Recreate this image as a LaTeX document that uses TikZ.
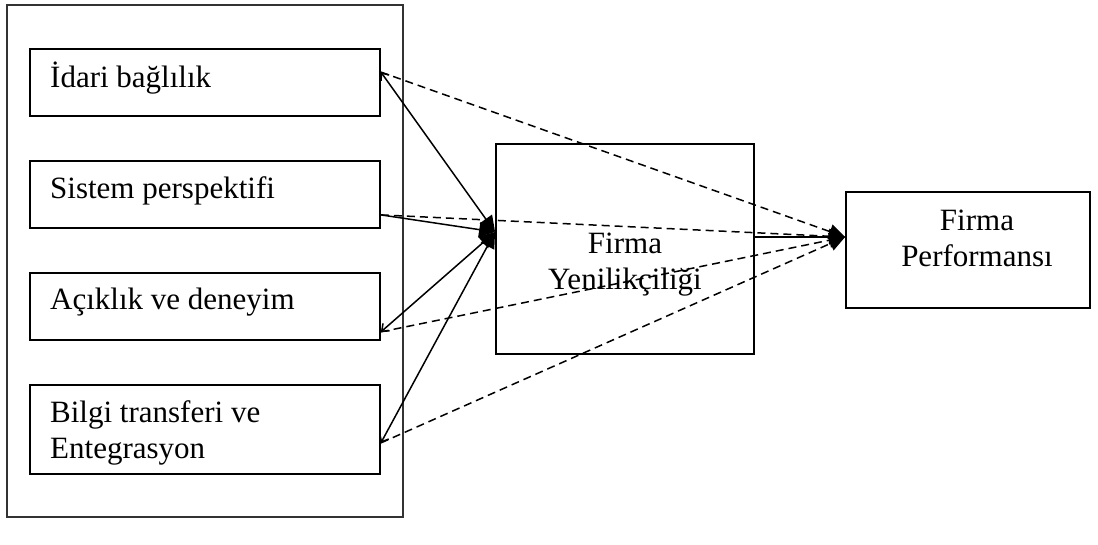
\documentclass[tikz,border=0pt]{standalone}
\usepackage{fontspec}
\setmainfont{Liberation Serif}
\usetikzlibrary{arrows.meta}
\begin{document}
\begin{tikzpicture}[x=1pt,y=-1pt,
  box/.style={draw=black,line width=1.8pt,inner sep=0pt,rectangle},
  outerbox/.style={draw=black!80,line width=1.5pt,inner sep=0pt,rectangle},
  lbl/.style={inner sep=0pt,font=\fontsize{31}{36}\selectfont},
  solidline/.style={line width=1.5pt,-{Triangle[length=16pt,width=15pt]}},
  solidboth/.style={line width=1.5pt,{Straight Barb[length=6pt,width=10pt]}-{Triangle[length=16pt,width=15pt]}},
  dashline/.style={line width=1.5pt,dash pattern=on 8pt off 5pt,-{Triangle[length=16pt,width=15pt]}}]
\useasboundingbox (0,0) rectangle (1098,545);
% boxes
\node[outerbox,minimum width=396pt,minimum height=512pt] (outer) at (205,261) {};
\node[box,minimum width=350pt,minimum height=67pt] (b1) at (205,82.5) {};
\node[box,minimum width=350pt,minimum height=67pt] (b2) at (205,194.5) {};
\node[box,minimum width=350pt,minimum height=67pt] (b3) at (205,306.5) {};
\node[box,minimum width=350pt,minimum height=89pt] (b4) at (205,429.5) {};
\node[box,minimum width=258pt,minimum height=210pt] (m) at (625,249) {};
\node[box,minimum width=244pt,minimum height=116pt] (r) at (968,250) {};
% labels
\node[lbl,anchor=base west] (t1) at (50,88) {İdari bağlılık};
\node[lbl,anchor=base west] (t2) at (50,199) {Sistem perspektifi};
\node[lbl,anchor=base west] (t3) at (50,310) {Açıklık ve deneyim};
\node[lbl,anchor=base west,align=left] (t4) at (50,458) {Bilgi transferi ve\\Entegrasyon};
\node[lbl,anchor=base,align=center] (tm) at (625,290) {Firma\\Yenilikçiliği};
\node[lbl,anchor=base,align=center] (tr) at (977,267) {Firma\\Performansı};
% solid connectors
\draw[solidboth] ([yshift=-24pt]b1.north east) -- ([yshift=17pt]m.west);
\draw[solidline] ([yshift=14pt]b2.south east) -- ([yshift=17pt]m.west);
\draw[solidboth] ([yshift=9pt]b3.south east) -- ([yshift=17pt]m.west);
\draw[solidboth] ([yshift=32pt]b4.south east) -- ([yshift=17pt]m.west);
\draw[solidline] ([yshift=12pt]m.east) -- ([yshift=13pt]r.west);
% dashed connectors
\draw[dashline] ([yshift=-24pt]b1.north east) -- ([yshift=13pt]r.west);
\draw[dashline] ([yshift=14pt]b2.south east) -- ([yshift=13pt]r.west);
\draw[dashline] ([yshift=9pt]b3.south east) -- ([yshift=13pt]r.west);
\draw[dashline] ([yshift=32pt]b4.south east) -- ([yshift=13pt]r.west);
\end{tikzpicture}
\end{document}
